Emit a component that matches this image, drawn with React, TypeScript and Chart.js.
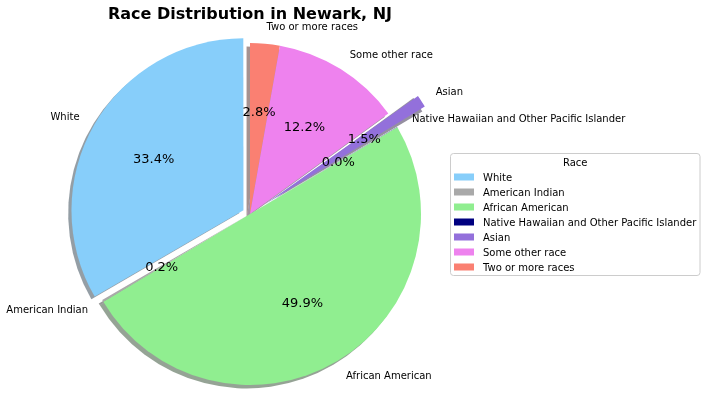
import React, { useEffect, useRef } from "react";
import { Chart, registerables } from "chart.js";

Chart.register(...registerables);

// ---- data ----
const categories = [
  "White",
  "American Indian",
  "African American",
  "Native Hawaiian and Other Pacific Islander",
  "Asian",
  "Some other race",
  "Two or more races",
];
const shares = [33.4, 0.2, 49.9, 0.04, 1.5, 12.2, 2.8];
const chartTitle = "Race Distribution in Newark, NJ";
const legendTitle = "Race";

// ---- styles ----
const colors = ["#87CEFA", "#A9A9A9", "#90EE90", "#000080", "#9370DB", "#EE82EE", "#FA8072"];
const explode = [0.05, 0, 0, 0, 0.2, 0, 0];
const RADIUS = 171;
const FONT = "'DejaVu Sans', Verdana, sans-serif";
const TEXT_DY = 1;

// matplotlib draws counter-clockwise from the top; Chart.js draws clockwise,
// so feed the slices in reverse order.
const order = categories.map((_, i) => categories.length - 1 - i);
const total = shares.reduce((a, b) => a + b, 0);

function offsetFor(i: number) {
  // Chart.js translates an arc by offset/4*(1+fix); solve for the wanted shift
  const circ = (shares[i] / total) * Math.PI * 2;
  const fix = 1 - Math.sin(Math.min(Math.PI, circ));
  const d = explode[i] * RADIUS;
  return (4 * d) / (1 + fix);
}

function hexToRgb(h: string) {
  const n = parseInt(h.slice(1), 16);
  return [(n >> 16) & 255, (n >> 8) & 255, n & 255];
}

function arcGeom(arc: any) {
  const p = arc.getProps(["x", "y", "startAngle", "endAngle", "outerRadius", "circumference"], true);
  const off = (arc.options.offset || 0) / 4;
  const fix = 1 - Math.sin(Math.min(Math.PI, p.circumference || 0));
  const d = off + off * fix;
  const mid = (p.startAngle + p.endAngle) / 2;
  return {
    ...p,
    mid,
    cx: p.x + Math.cos(mid) * d,
    cy: p.y + Math.sin(mid) * d,
  };
}

const mplPie = {
  id: "mplPie",
  beforeDatasetsDraw(chart: any) {
    const ctx = chart.ctx;
    const meta = chart.getDatasetMeta(0);
    meta.data.forEach((arc: any, j: number) => {
      const i = order[j];
      const g = arcGeom(arc);
      const [r, gg, b] = hexToRgb(colors[i]);
      const col = `rgba(${Math.round(r * 0.3)},${Math.round(gg * 0.3)},${Math.round(b * 0.3)},0.5)`;
      const sx = g.cx - 0.02 * g.outerRadius;
      const sy = g.cy + 0.02 * g.outerRadius;
      ctx.save();
      ctx.beginPath();
      ctx.moveTo(sx, sy);
      ctx.arc(sx, sy, g.outerRadius, g.startAngle, g.endAngle);
      ctx.closePath();
      ctx.fillStyle = col;
      ctx.fill();
      ctx.restore();
    });
  },
  afterDatasetsDraw(chart: any) {
    const ctx = chart.ctx;
    const meta = chart.getDatasetMeta(0);
    ctx.save();
    ctx.fillStyle = "#000";
    ctx.textBaseline = "middle";
    meta.data.forEach((arc: any, j: number) => {
      const i = order[j];
      const g = arcGeom(arc);
      // category label at 1.1 r
      const lx = g.cx + Math.cos(g.mid) * 1.1 * g.outerRadius;
      const ly = g.cy + Math.sin(g.mid) * 1.1 * g.outerRadius;
      ctx.font = `10px ${FONT}`;
      ctx.textAlign = lx > g.x ? "left" : "right";
      ctx.fillText(categories[i], lx, ly + TEXT_DY);
      // percentage at 0.6 r
      const px = g.cx + Math.cos(g.mid) * 0.6 * g.outerRadius;
      const py = g.cy + Math.sin(g.mid) * 0.6 * g.outerRadius;
      ctx.font = `13px ${FONT}`;
      ctx.textAlign = "center";
      ctx.fillText(((shares[i] / total) * 100).toFixed(1) + "%", px, py + TEXT_DY);
    });
    ctx.restore();
  },
  afterDraw(chart: any) {
    const ctx = chart.ctx;
    const meta = chart.getDatasetMeta(0);
    const cxChart = meta.data[0] ? meta.data[0].x : 250;
    ctx.save();
    // title
    ctx.fillStyle = "#000";
    ctx.font = `bold 16px ${FONT}`;
    ctx.textAlign = "center";
    ctx.textBaseline = "middle";
    ctx.fillText(chartTitle, cxChart, 14 + TEXT_DY);

    // legend
    const bx = 450.5, by = 153.5, bw = 249.5, bh = 122;
    ctx.beginPath();
    ctx.roundRect(bx, by, bw, bh, 3);
    ctx.fillStyle = "rgba(255,255,255,0.8)";
    ctx.fill();
    ctx.strokeStyle = "#cccccc";
    ctx.lineWidth = 1;
    ctx.stroke();

    ctx.fillStyle = "#000";
    ctx.font = `10px ${FONT}`;
    ctx.textAlign = "center";
    ctx.fillText(legendTitle, bx + bw / 2, 162 + TEXT_DY);
    ctx.textAlign = "left";
    categories.forEach((c, i) => {
      const yy = 177 + i * 15;
      ctx.fillStyle = colors[i];
      ctx.fillRect(454, yy - 3.5, 20, 7);
      ctx.fillStyle = "#000";
      ctx.fillText(c, 483, yy + TEXT_DY);
    });
    ctx.restore();
  },
};

export default function App() {
  const ref = useRef<HTMLCanvasElement | null>(null);
  useEffect(() => {
    if (!ref.current) return;
    const chart = new Chart(ref.current, {
      type: "pie",
      data: {
        labels: order.map((i) => categories[i]),
        datasets: [
          {
            data: order.map((i) => shares[i]),
            backgroundColor: order.map((i) => colors[i]),
            offset: order.map((i) => offsetFor(i)),
            hoverOffset: order.map((i) => offsetFor(i)),
            borderWidth: 0,
            radius: RADIUS,
          } as any,
        ],
      },
      options: {
        responsive: false,
        animation: false,
        devicePixelRatio: 1,
        events: [],
        rotation: 0,
        layout: { padding: { left: 0, right: 206, top: 16, bottom: 0 } },
        plugins: {
          legend: { display: false },
          title: { display: false },
          tooltip: { enabled: false },
        },
      },
      plugins: [mplPie],
    });
    return () => chart.destroy();
  }, []);
  return (
    <div style={{ position: "absolute", left: 0, top: 0, width: 706, height: 412, background: "#fff" }}>
      <canvas ref={ref} width={706} height={412} style={{ display: "block" }} />
    </div>
  );
}
